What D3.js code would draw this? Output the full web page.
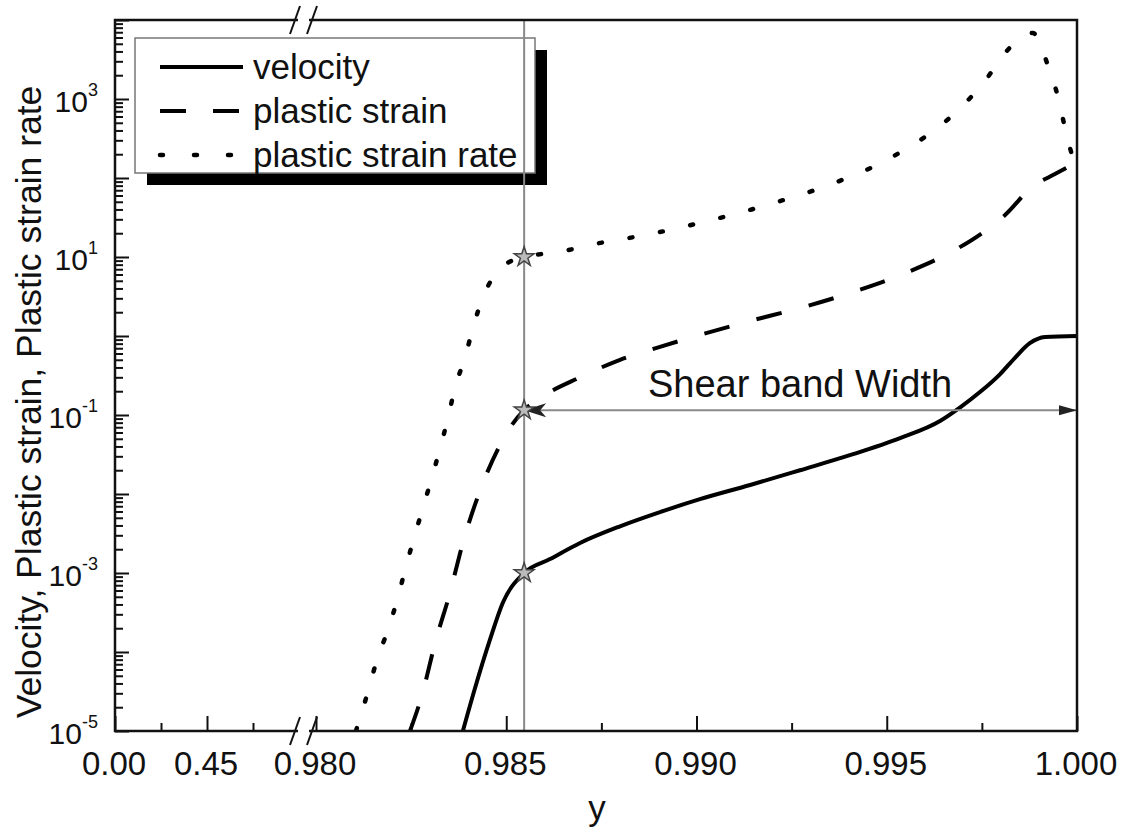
<!DOCTYPE html>
<html>
<head>
<meta charset="utf-8">
<script src="https://cdn.jsdelivr.net/npm/d3@7"></script>
<style>
  body { margin: 0; background: #fff; }
  text { font-family: "Liberation Sans", Arial, Helvetica, sans-serif; fill: #111; }
</style>
</head>
<body>
<svg id="chart" width="1127" height="834"></svg>
<script>
// ---- data: profiles across the shear band (log scale values) ----
const velocityPos = [0.98386, 0.98418, 0.98457, 0.98491, 0.98547, 0.98615, 0.98694,
  0.98799, 0.98904, 0.99009, 0.99141, 0.99272, 0.99403, 0.99535, 0.99640, 0.99693, 0.99745,
  0.99798, 0.99837, 0.99876, 0.99916, 1.0];
const velocity = [1.0e-5, 3.5e-5, 1.42e-4, 4.2e-4, 1.0e-3, 1.5e-3, 2.4e-3,
  3.9e-3, 5.9e-3, 8.6e-3, 1.3e-2, 2.0e-2, 3.1e-2, 5.1e-2, 8.4e-2, 0.125, 0.195,
  0.33, 0.53, 0.81, 0.97, 1.0];

const strainPos = [0.98247, 0.98279, 0.98313, 0.98352, 0.98386, 0.98431, 0.98484, 0.98515,
  0.98547, 0.98589, 0.98694, 0.98799, 0.98904, 0.99009, 0.99141, 0.99272, 0.99411, 0.99543,
  0.99674, 0.99750, 0.99811, 0.99882, 0.99942, 1.0];
const plasticStrain = [1.0e-5, 2.9e-5, 1.3e-4, 5.6e-4, 2.4e-3, 1.1e-2, 4.2e-2, 7.5e-2,
  0.115, 0.164, 0.30, 0.50, 0.73, 1.03, 1.55, 2.26, 3.6, 6.1,
  11.9, 20, 34, 77, 112, 158];

const ratePos = [0.98105, 0.98137, 0.98160, 0.98189, 0.98213, 0.98234, 0.98326, 0.98347,
  0.98365, 0.98392, 0.98413, 0.98439, 0.98489, 0.98547, 0.98641, 0.98720, 0.98878, 0.99035,
  0.99201, 0.99361, 0.99519, 0.99682, 0.99756, 0.99813, 0.99884, 0.99924, 0.99950, 0.99968,
  0.99989, 1.0];
const plasticStrainRate = [1.0e-5, 3.2e-5, 7.9e-5, 1.9e-4, 4.5e-4, 1.09e-3, 3.8e-2, 9.2e-2,
  0.22, 0.54, 1.3, 3.1, 7.5, 10, 11.6, 14.2, 19.5, 29,
  48, 86, 190, 684, 1640, 3940, 6840, 2620, 1060, 443,
  185, 146];

// band edge and the values picked out on each curve there
const bandEdge = 0.98547;
const bandMarks = [1.0e-3, 0.115, 10];

// ---- axis ticks and labels ----
const xMajorTicks = [0, 0.45, 0.98, 0.985, 0.99, 0.995, 1.0];
const xTickLabels = ["0.00", "0.45", "0.980", "0.985", "0.990", "0.995", "1.000"];
const xMinorTicks = [0.225, 0.675, 0.9825, 0.9875, 0.9925, 0.9975];
const yDecades = [-5, -4, -3, -2, -1, 0, 1, 2, 3, 4];
const yLabelExponents = [-5, -3, -1, 1, 3];
const legendLabels = ["velocity", "plastic strain", "plastic strain rate"];

// ---- layout ----
const W = 1127, H = 834;
const plotL = 115, plotR = 1077, plotT = 20, plotB = 731;
const svg = d3.select("#chart");
svg.append("rect").attr("width", W).attr("height", H).attr("fill", "#fff");

// broken x axis: 0 .. 0.9 squeezed into a short segment, then 0.98 .. 1.0
const x = d3.scaleLinear().domain([0, 0.9, 0.98, 1.0]).range([plotL, 299, 316, plotR]);
const y = d3.scaleLog().domain([1e-5, 1e4]).range([plotB, plotT]);

svg.append("defs").append("clipPath").attr("id", "plotClip")
  .append("rect").attr("x", plotL).attr("y", plotT)
  .attr("width", plotR - plotL).attr("height", plotB - plotT);

// ---- axes (ticks point inward) ----
const xAxisG = svg.append("g").attr("transform", `translate(0,${plotB})`)
  .call(d3.axisBottom(x).tickValues(xMajorTicks).tickSize(-15).tickPadding(21)
    .tickFormat((d, i) => xTickLabels[i]))
  .call(g => g.select(".domain").remove());
xAxisG.selectAll("line").attr("stroke", "#111").attr("stroke-width", 2);
xAxisG.selectAll("text").attr("font-size", 33).attr("fill", "#111")
  .attr("dx", -1.5)
  .style("font-family", '"Liberation Sans", Arial, sans-serif');

svg.append("g").attr("transform", `translate(0,${plotB})`)
  .call(d3.axisBottom(x).tickValues(xMinorTicks).tickSize(-8).tickFormat(""))
  .call(g => g.select(".domain").remove())
  .selectAll("line").attr("stroke", "#111").attr("stroke-width", 2);

const yMajor = yDecades.map(e => Math.pow(10, e));
const yMinor = [];
yDecades.slice(0, -1).forEach(e => {
  for (let m = 2; m <= 9; m++) yMinor.push(m * Math.pow(10, e));
});

svg.append("g").attr("transform", `translate(${plotL},0)`)
  .call(d3.axisLeft(y).tickValues(yMajor).tickSize(-14).tickFormat(""))
  .call(g => g.select(".domain").remove())
  .selectAll("line").attr("stroke", "#111").attr("stroke-width", 2);

svg.append("g").attr("transform", `translate(${plotL},0)`)
  .call(d3.axisLeft(y).tickValues(yMinor).tickSize(-8).tickFormat(""))
  .call(g => g.select(".domain").remove())
  .selectAll("line").attr("stroke", "#111").attr("stroke-width", 2);

// y tick labels as powers of ten
const yLab = svg.append("g");
yLabelExponents.forEach(e => {
  const t = yLab.append("text").attr("x", 98).attr("y", y(Math.pow(10, e)) + 13)
    .attr("text-anchor", "end");
  t.append("tspan").attr("font-size", 30).text("10");
  t.append("tspan").attr("font-size", 18).attr("dy", -16).text(String(e));
});

// ---- curves ----
const lineGen = d3.line().x(d => x(d[0])).y(d => y(d[1])).curve(d3.curveMonotoneX);
const curves = svg.append("g").attr("clip-path", "url(#plotClip)");

curves.append("path").datum(d3.zip(velocityPos, velocity))
  .attr("d", lineGen).attr("fill", "none").attr("stroke", "#000")
  .attr("stroke-width", 4);

curves.append("path").datum(d3.zip(strainPos, plasticStrain))
  .attr("d", lineGen).attr("fill", "none").attr("stroke", "#000")
  .attr("stroke-width", 4).attr("stroke-dasharray", "26,28");

curves.append("path").datum(d3.zip(ratePos, plasticStrainRate))
  .attr("d", lineGen).attr("fill", "none").attr("stroke", "#000")
  .attr("stroke-width", 4.5).attr("stroke-linecap", "round")
  .attr("stroke-dasharray", "3,28");

// ---- shear band width arrow ----
const bx = x(bandEdge), by = y(bandMarks[1]);
svg.append("line").attr("x1", bx).attr("x2", plotR).attr("y1", by).attr("y2", by)
  .attr("stroke", "#8a8a8a").attr("stroke-width", 2);
svg.append("path")
  .attr("d", `M${bx},${by} L${bx + 22},${by - 7} L${bx + 16},${by} L${bx + 22},${by + 7} Z`)
  .attr("fill", "#222");
svg.append("path")
  .attr("d", `M${plotR},${by} L${plotR - 18},${by - 5} L${plotR - 18},${by + 5} Z`)
  .attr("fill", "#222");
svg.append("text").attr("x", 648).attr("y", 397).attr("font-size", 38)
  .text("Shear band Width");

// ---- legend ----
const legend = svg.append("g");
legend.append("rect").attr("x", 147).attr("y", 50).attr("width", 400).attr("height", 135)
  .attr("fill", "#000");
legend.append("rect").attr("x", 135).attr("y", 38).attr("width", 400).attr("height", 135)
  .attr("fill", "#fff").attr("stroke", "#777").attr("stroke-width", 1.5);
const legendStyles = [
  { dash: null, cap: "butt", w: 4 },
  { dash: "26,27", cap: "butt", w: 4 },
  { dash: "3,31", cap: "round", w: 4.5 }
];
const legendRows = [67, 111, 155];
legendLabels.forEach((lab, i) => {
  const s = legendStyles[i];
  const ln = legend.append("line").attr("x1", 160).attr("x2", i === 0 ? 243 : 240)
    .attr("y1", legendRows[i]).attr("y2", legendRows[i])
    .attr("stroke", "#000").attr("stroke-width", s.w).attr("stroke-linecap", s.cap);
  if (s.dash) ln.attr("stroke-dasharray", s.dash);
  legend.append("text").attr("x", 253).attr("y", legendRows[i] + 12)
    .attr("font-size", 35).text(lab);
});

// ---- band edge guide line and markers ----
svg.append("line").attr("x1", bx).attr("x2", bx).attr("y1", plotT).attr("y2", plotB)
  .attr("stroke", "#8a8a8a").attr("stroke-width", 2);
const star = d3.symbol().type(d3.symbolStar).size(120);
svg.append("g").selectAll("path").data(bandMarks).join("path")
  .attr("d", star)
  .attr("transform", d => `translate(${bx},${y(d)})`)
  .attr("fill", "#bbb").attr("stroke", "#444").attr("stroke-width", 1.5);

// ---- frame with axis break marks ----
svg.append("rect").attr("x", plotL).attr("y", plotT).attr("width", plotR - plotL)
  .attr("height", plotB - plotT).attr("fill", "none").attr("stroke", "#111")
  .attr("stroke-width", 2.5);
[plotT, plotB].forEach(yy => {
  svg.append("rect").attr("x", 298).attr("y", yy - 3).attr("width", 11).attr("height", 6)
    .attr("fill", "#fff");
  [295, 312].forEach(cx => {
    svg.append("line").attr("x1", cx - 5).attr("y1", yy + 14).attr("x2", cx + 5).attr("y2", yy - 14)
      .attr("stroke", "#111").attr("stroke-width", 2);
  });
});

// ---- axis titles ----
svg.append("text").attr("x", 597).attr("y", 820).attr("text-anchor", "middle")
  .attr("font-size", 35).text("y");
svg.append("text").attr("transform", "translate(41,402) rotate(-90)")
  .attr("text-anchor", "middle").attr("font-size", 35.5)
  .text("Velocity, Plastic strain, Plastic strain rate");
</script>
</body>
</html>
